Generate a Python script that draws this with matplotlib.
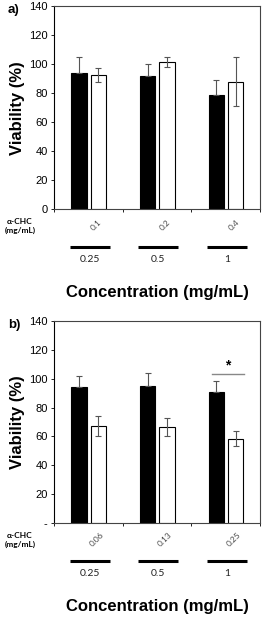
import numpy as np
import matplotlib
matplotlib.use("Agg")
import matplotlib.pyplot as plt
import matplotlib.transforms as mtransforms

plt.rcParams['font.family'] = ['Liberation Sans', 'DejaVu Sans']

# data
conc_labels = ['0.25', '0.5', '1']
chc_a = ['0.1', '0.2', '0.4']
chc_b = ['0.06', '0.13', '0.25']

a_black = [94, 92, 79]
a_black_err = [11, 8, 10.5]
a_white = [92.5, 101.5, 88]
a_white_err = [5, 3.5, 17]

b_black = [94, 95, 90.5]
b_black_err = [8, 9, 8]
b_white = [67, 66.5, 58.5]
b_white_err = [7, 6.5, 5]

yticks = [0, 20, 40, 60, 80, 100, 120, 140]
yticklabels_a = ['0', '20', '40', '60', '80', '100', '120', '140']
yticklabels_b = ['-', '20', '40', '60', '80', '100', '120', '140']

fig = plt.figure(figsize=(2.64, 6.18), dpi=100)
ax_a = fig.add_axes([0.2045, 0.6618, 0.780, 0.3277])
ax_b = fig.add_axes([0.2045, 0.1537, 0.780, 0.3269])

x = np.arange(3)
w = 0.225


def draw_panel(ax, black, black_err, white, white_err, chc, ylabels, letter):
    ax.bar(x - 0.135, black, w, color='black', edgecolor='black', linewidth=0.8)
    ax.bar(x + 0.145, white, w, color='white', edgecolor='black', linewidth=0.8)
    # black bars: only the upper half of the error bar shows
    ax.errorbar(x - 0.135, black, yerr=[[0, 0, 0], black_err], fmt='none',
                ecolor='#555555', elinewidth=0.8, capsize=2, capthick=0.8)
    ax.errorbar(x + 0.145, white, yerr=white_err, fmt='none', ecolor='#555555',
                elinewidth=0.8, capsize=2, capthick=0.8)
    ax.set_xlim(-0.5, 2.5)
    ax.set_ylim(0, 140)
    ax.set_yticks(yticks)
    ax.set_yticklabels(ylabels, fontsize=8)
    ax.set_xticks([-0.5, 0.5, 1.5, 2.5])
    ax.set_xticklabels([])
    ax.tick_params(axis='both', direction='out', length=2.5, width=0.6, pad=2)
    for s in ['top', 'right']:
        ax.spines[s].set_color('#444444')
        ax.spines[s].set_linewidth(0.8)
    ax.spines['left'].set_linewidth(0.8)
    ax.spines['bottom'].set_linewidth(0.8)
    ax.spines['bottom'].set_color('#444444')

    ax.set_ylabel('Viability (%)', fontsize=12, fontweight='bold', labelpad=3)

    h = ax.get_position().height * 618
    trans = mtransforms.blended_transform_factory(ax.transData, ax.transAxes)
    for i in range(3):
        ax.text(x[i] + 0.12, -16 / h, chc[i], transform=trans, rotation=45,
                ha='center', va='center', fontsize=6, color='#444444',
                family=['Lato', 'DejaVu Sans'])
        ax.plot([x[i] - 0.27, x[i] + 0.31], [-38 / h, -38 / h], transform=trans,
                color='black', lw=2.2, clip_on=False, solid_capstyle='butt')
        ax.text(x[i] + 0.02, -50 / h, conc_labels[i], transform=trans,
                ha='center', va='center', fontsize=7.5, color='#222222',
                family=['Lato', 'DejaVu Sans'])
    ax.text(0.5, -83 / h, 'Concentration (mg/mL)', transform=ax.transAxes,
            ha='center', va='center', fontsize=12, fontweight='bold')
    ax.text(-34 / 206, -17 / h, '\u03b1-CHC\n(mg/mL)', transform=ax.transAxes,
            ha='center', va='center', fontsize=6, fontweight='bold',
            linespacing=1.4, family=['Lato', 'DejaVu Sans'])
    ax.text(-46 / 206, 1 - 4 / h, letter, transform=ax.transAxes,
            ha='left', va='center', fontsize=9.5, fontweight='bold')


draw_panel(ax_a, a_black, a_black_err, a_white, a_white_err, chc_a, yticklabels_a, 'a)')
draw_panel(ax_b, b_black, b_black_err, b_white, b_white_err, chc_b, yticklabels_b, 'b)')

# significance marker
ax_b.plot([1.80, 2.27], [103, 103], color='#888888', lw=1.0)
ax_b.text(2.035, 104, '*', ha='center', va='bottom', fontsize=10, fontweight='bold')

fig.savefig('out.png', dpi=100)
